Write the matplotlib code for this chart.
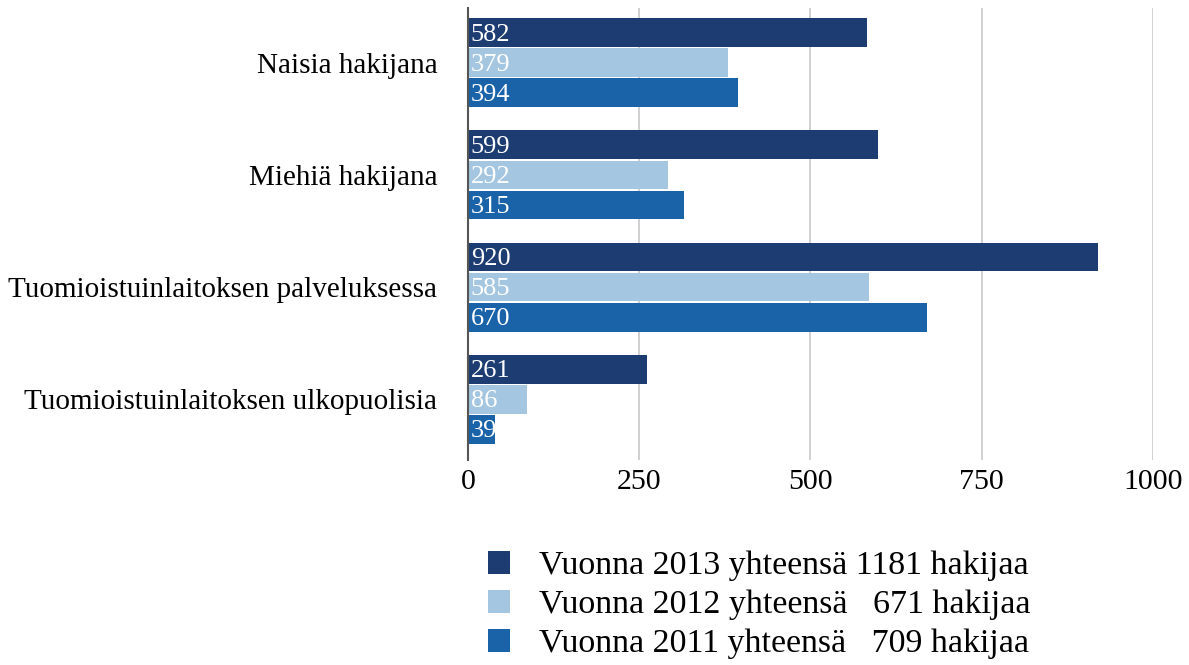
import matplotlib.pyplot as plt
import numpy as np

plt.rcParams['font.family'] = ['Liberation Serif', 'DejaVu Serif']

categories = ['Naisia hakijana', 'Miehiä hakijana',
              'Tuomioistuinlaitoksen palveluksessa',
              'Tuomioistuinlaitoksen ulkopuolisia']
v2013 = [582, 599, 920, 261]
v2012 = [379, 292, 585, 86]
v2011 = [394, 315, 670, 39]
series_labels = ['Vuonna 2013 yhteensä 1181 hakijaa',
                 'Vuonna 2012 yhteensä   671 hakijaa',
                 'Vuonna 2011 yhteensä   709 hakijaa']
colors = ['#1d3d72', '#a4c6e1', '#1a63a9']

fig = plt.figure(figsize=(11.89, 6.65), dpi=100)
ax = fig.add_axes([0.3936, 0.308, 0.576, 0.680])

y = np.arange(len(categories))
h = 0.258
step = 0.268
handles = []
for i, (vals, c, lab) in enumerate(zip([v2013, v2012, v2011], colors, series_labels)):
    pos = y + (i - 1) * step
    b = ax.barh(pos, vals, height=h, color=c, label=lab, zorder=2)
    handles.append(b)
    for p, v in zip(pos, vals):
        ax.text(4, p + 0.015, str(v), color='white', fontsize=19,
                va='center', ha='left', zorder=3)

ax.set_xlim(0, 1000)
ax.set_ylim(3.545, -0.49)
ax.set_xticks([0, 250, 500, 750, 1000])
ax.set_yticks(y)
ax.set_yticklabels(categories, fontsize=21)
ax.tick_params(axis='x', labelsize=21.5, length=0, pad=6)
ax.tick_params(axis='y', length=0, pad=22)
ax.grid(axis='x', color='#c8c8c8', linewidth=1.2, zorder=0)
for s in ['top', 'right', 'bottom']:
    ax.spines[s].set_visible(False)
ax.spines['left'].set_color('#555555')
ax.spines['left'].set_linewidth(1.5)
ax.spines['left'].set_zorder(4)

fig.legend(handles=handles, loc='upper left', bbox_to_anchor=(0.396, 0.197),
           frameon=False, fontsize=24.4, handlelength=0.65, handleheight=0.65,
           handletextpad=0.85, labelspacing=0.25, borderpad=0)

fig.savefig('out.png', dpi=100)
